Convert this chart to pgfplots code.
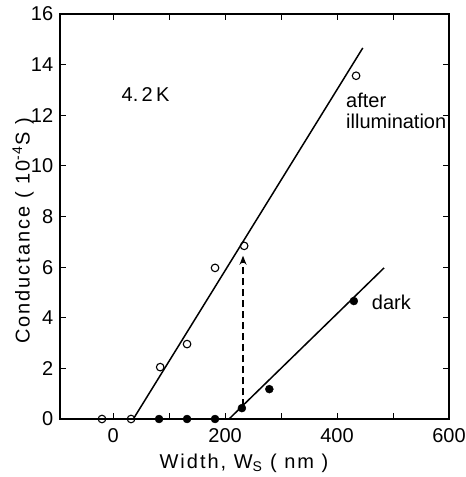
\documentclass[border=0pt]{standalone}
\usepackage{fontspec}
\setmainfont{Liberation Sans}
\usepackage{pgfplots}
\pgfplotsset{compat=1.18}
\usetikzlibrary{arrows.meta}
\newfontfamily\wide[LetterSpace=10]{Liberation Sans}
\begin{document}
\fontsize{20}{24}\selectfont
\begin{tikzpicture}
\begin{axis}[
  scale only axis, width=389pt, height=405pt,
  xmin=-95, xmax=600, ymin=0, ymax=16,
  xtick={0,200,400,600}, minor xtick={0,100,...,500},
  ytick={0,2,...,16},
  tick align=inside, major tick length=6pt, minor tick length=6pt,
  every tick/.style={black, line width=1pt},
  axis line style={line width=1.2pt},
  /pgf/number format/assume math mode=true,
  tick label style={font=\fontsize{20}{24}\selectfont},
  xticklabel style={yshift=-3pt},
  label style={font=\wide\fontsize{20}{24}\selectfont},
  xlabel={Width, W\textsubscript{S} ( nm )},
  ylabel={Conductance ( 10\textsuperscript{-4}S )},
  xlabel style={at={(axis description cs:0.473,-0.121)}, anchor=base},
  ylabel style={at={(axis description cs:-0.095,0.464)}, anchor=center},
  clip=false,
]
% fitted lines
\addplot[black, line width=1.5pt] coordinates {(36,0) (446,14.66)};
\addplot[black, line width=1.5pt] coordinates {(207,0) (484,5.97)};
% after illumination: open circles
\addplot[only marks, mark=o, mark size=3.8pt, black, mark options={line width=1.1pt, fill=white}]
  coordinates {(-20,0) (32,0) (84,2.05) (132,2.96) (182,5.97) (234,6.84) (434,13.56)};
% dark: filled circles
\addplot[only marks, mark=*, mark size=4pt, black]
  coordinates {(82,0) (132,0) (182,0) (230,0.43) (279,1.18) (430,4.66)};
% arrow from dark to illuminated state
\addplot[black, line width=1.3pt, dash pattern=on 7pt off 4pt, -{Stealth[length=9pt,width=7pt]}]
  coordinates {(232,0.5) (232,6.45)};
\node[anchor=west] at (axis cs:3,12.8) {4.\,2\,K};
\node[anchor=west, inner sep=0pt] at (axis cs:416,12.6) {after};
\node[anchor=west, inner sep=0pt] at (axis cs:416,11.74) {illumination};
\node[anchor=west, inner sep=0pt] at (axis cs:462,4.6) {dark};
\end{axis}
\pgfresetboundingbox
\path[use as bounding box] ([shift={(-60pt,-58pt)}]current axis.south west)
  rectangle ([shift={(17pt,14pt)}]current axis.north east);
\end{tikzpicture}
\end{document}
